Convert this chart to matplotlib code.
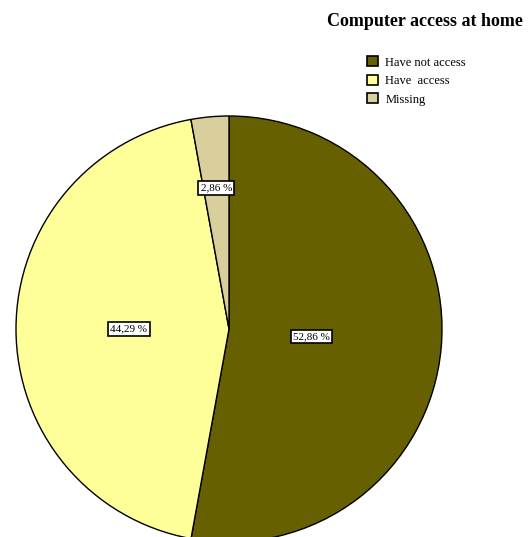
import matplotlib
matplotlib.use("Agg")
import matplotlib.pyplot as plt
import numpy as np

categories = ["Have not access", "Have  access", "Missing"]
shares = [52.86, 44.29, 2.86]
pct_labels = ["52,86 %", "44,29 %", "2,86 %"]
colors = ["#666000", "#FFFF99", "#D9CF9C"]
label_radius = [0.39, 0.47, 0.665]

plt.rcParams["font.family"] = ["Liberation Serif", "DejaVu Serif"]

fig = plt.figure(figsize=(5.28, 5.37), dpi=100)
W, H = 528, 537
cx, cy, r = 229, 329, 213
ax = fig.add_axes([(cx - r) / W, (H - cy - r) / H, 2 * r / W, 2 * r / H])

wedges, _ = ax.pie(shares, colors=colors, startangle=90, counterclock=False,
                   wedgeprops=dict(edgecolor="black", linewidth=1.0))
ax.set_xlim(-1, 1)
ax.set_ylim(-1, 1)
ax.set_aspect("equal")
ax.axis("off")

for w, lab, rr in zip(wedges, pct_labels, label_radius):
    ang = np.deg2rad((w.theta1 + w.theta2) / 2)
    ax.text(rr * np.cos(ang), rr * np.sin(ang), lab, ha="center", va="center",
            fontsize=8,
            bbox=dict(boxstyle="square,pad=0.2", fc="white", ec="black", lw=1.2))

fig.text(425 / W, 1 - 22 / H, "Computer access at home", ha="center", va="center",
         fontsize=13, fontweight="bold")

leg = fig.legend(wedges, categories, loc="upper left",
                 bbox_to_anchor=(361 / W, 1 - 50 / H), frameon=False,
                 fontsize=9, handlelength=0.85, handleheight=0.85,
                 handletextpad=0.6, labelspacing=0.5, borderpad=0)
for h in leg.legend_handles:
    h.set_linewidth(1.2)

fig.savefig("out.png", dpi=100)
